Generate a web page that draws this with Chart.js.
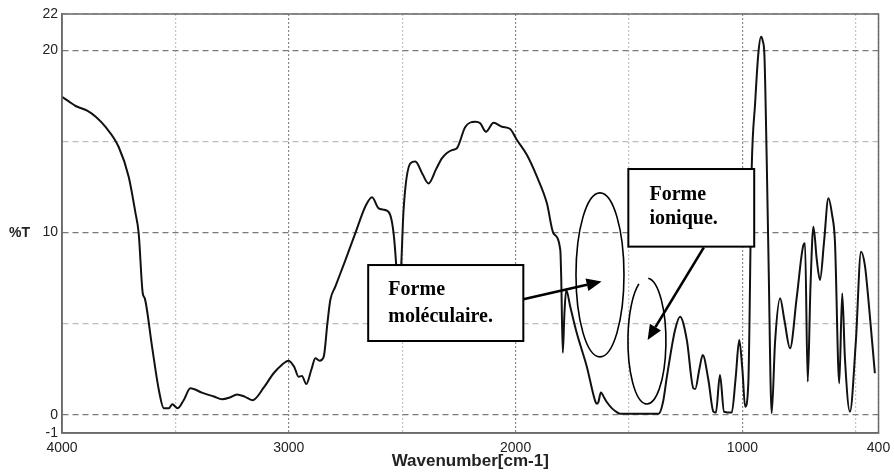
<!DOCTYPE html>
<html>
<head>
<meta charset="utf-8">
<title>Spectre IR</title>
<script src="https://cdn.jsdelivr.net/npm/chart.js@4.4.0/dist/chart.umd.min.js"></script>
<style>
  body { margin: 0; background: #fff; }
  canvas { display: block; }
</style>
</head>
<body>
<canvas id="myChart" width="894" height="472"></canvas>
<script>
const wavenumbers = [
  4000, 3970, 3940, 3889, 3850, 3808, 3750, 3706, 3676, 3662, 3644, 3635, 3603, 3573, 3551, 3529, 3514, 3490, 3463, 3434,
  3380, 3330, 3294, 3260, 3228, 3195, 3160, 3110, 3067, 3030, 3001, 2975, 2957, 2942, 2923, 2900, 2883, 2864, 2846, 2830,
  2817, 2795, 2750, 2707, 2660, 2633, 2604, 2575, 2553, 2538, 2527, 2515, 2504, 2494, 2464, 2442, 2410, 2384, 2350, 2325,
  2281, 2259, 2222, 2178, 2156, 2131, 2097, 2060, 2024, 1994, 1950, 1906, 1862, 1833, 1803, 1799, 1792, 1785, 1777, 1759,
  1730, 1686, 1649, 1642, 1635, 1624, 1610, 1598, 1575, 1554, 1539, 1370, 1350, 1333, 1297, 1275, 1245, 1216, 1208, 1190,
  1175, 1150, 1128, 1117, 1099, 1081, 1047, 1030, 1014, 1000, 988, 974, 959, 944, 930, 918, 910, 903, 893, 885,
  871, 856, 834, 815, 790, 760, 731, 724, 712, 700, 687, 672, 658, 640, 621, 605, 592, 573, 560, 548,
  526, 500, 477, 460, 445, 416
];
const transmittance = [
  17.45, 17.2, 16.95, 16.7, 16.35, 15.8, 14.7, 13.07, 11.07, 9.98, 6.67, 6.39, 3.74, 1.36, 0.36, 0.36, 0.58, 0.36, 0.81, 1.45,
  1.2, 1.0, 0.85, 0.95, 1.12, 1.0, 0.8, 1.5, 2.28, 2.75, 2.97, 2.6, 2.09, 2.13, 1.69, 2.5, 3.1, 2.97, 3.19, 5.0,
  6.3, 7.03, 8.5, 9.96, 11.5, 11.94, 11.33, 11.24, 10.97, 9.96, 8.3, 5.5, 8.3, 11.24, 13.8, 13.9, 13.2, 12.7, 13.5, 14.08,
  14.53, 14.63, 15.8, 16.09, 16.0, 15.54, 16.03, 15.81, 15.69, 15.08, 14.26, 13.07, 11.61, 9.96, 9.05, 7.58, 3.4, 5.5, 6.85, 5.93,
  4.47, 2.64, 0.75, 0.6, 0.7, 1.23, 0.95, 0.7, 0.35, 0.15, 0.05, 0.05, 0.7, 2.09, 4.65, 5.38, 4.1, 1.45, 1.42, 2.5,
  3.28, 1.91, 0.17, 0.12, 2.18, 0.17, 0.12, 2.0, 4.1, 2.46, 0.44, 1.73, 13.53, 17.1, 19.8, 20.75, 20.5, 19.75, 14.08, 8.59,
  0.08, 4.01, 6.39, 5.2, 3.65, 6.5, 9.32, 9.41, 1.82, 7.0, 10.32, 8.5, 7.4, 9.5, 11.88, 11.0, 9.5, 1.73, 6.67, 3.1,
  0.17, 4.0, 8.95, 8.2, 6.39, 2.28
];

const xTicks = [4000, 3500, 3000, 2500, 2000, 1500, 1000, 500, 400];
const xLabels = [4000, 3000, 2000, 1000, 400];
const yTicks = [-1, 0, 5, 10, 15, 20, 22];
const yLabels = [-1, 0, 10, 20, 22];

// annotations (en coordonnees du graphique)
const boxes = [
  { x1: 2650, x2: 1966, y1: 8.22, y2: 4.05, tx: 2561, lines: ['Forme', 'moléculaire.'], ty: [6.58, 5.11] },
  { x1: 1503, x2: 948, y1: 13.49, y2: 9.23, tx: 1410, lines: ['Forme', 'ionique.'], ty: [11.79, 10.47] }
];
const arrows = [
  { from: [1966, 6.34], to: [1621, 7.32] },
  { from: [1170, 9.19], to: [1418, 4.11] }
];

const annotPlugin = {
  id: 'annot',
  afterDraw(chart) {
    const ctx = chart.ctx;
    const sx = chart.scales.x, sy = chart.scales.y;
    const a = chart.chartArea;
    ctx.save();
    // cadre
    ctx.strokeStyle = '#6a6a6a';
    ctx.lineWidth = 1.5;
    ctx.strokeRect(a.left, a.top, a.right - a.left, a.bottom - a.top);

    // ellipses
    ctx.strokeStyle = '#000';
    ctx.lineWidth = 1.6;
    ctx.beginPath();
    ctx.ellipse(sx.getPixelForValue(1628), sy.getPixelForValue(7.68), 24, 82, 0, 0, Math.PI * 2);
    ctx.stroke();
    ctx.beginPath();
    ctx.ellipse(sx.getPixelForValue(1421), sy.getPixelForValue(4.05), 19, 63, 0, 274 * Math.PI / 180, 605 * Math.PI / 180);
    ctx.stroke();

    // boites
    boxes.forEach(b => {
      const x1 = sx.getPixelForValue(b.x1), x2 = sx.getPixelForValue(b.x2);
      const y1 = sy.getPixelForValue(b.y1), y2 = sy.getPixelForValue(b.y2);
      ctx.fillStyle = '#fff';
      ctx.fillRect(x1, y1, x2 - x1, y2 - y1);
      ctx.strokeStyle = '#000';
      ctx.lineWidth = 2;
      ctx.strokeRect(x1, y1, x2 - x1, y2 - y1);
      ctx.fillStyle = '#000';
      ctx.font = 'bold 20px "Liberation Serif", "Times New Roman", serif';
      ctx.textBaseline = 'alphabetic';
      ctx.textAlign = 'left';
      b.lines.forEach((t, i) => ctx.fillText(t, sx.getPixelForValue(b.tx), sy.getPixelForValue(b.ty[i])));
    });

    // fleches
    arrows.forEach(ar => {
      const x0 = sx.getPixelForValue(ar.from[0]), y0 = sy.getPixelForValue(ar.from[1]);
      const x1 = sx.getPixelForValue(ar.to[0]), y1 = sy.getPixelForValue(ar.to[1]);
      const ang = Math.atan2(y1 - y0, x1 - x0);
      const hl = 15, hw = 6.5;
      const bx = x1 - hl * Math.cos(ang), by = y1 - hl * Math.sin(ang);
      ctx.strokeStyle = '#000';
      ctx.lineWidth = 2.6;
      ctx.beginPath();
      ctx.moveTo(x0, y0);
      ctx.lineTo(bx, by);
      ctx.stroke();
      ctx.fillStyle = '#000';
      ctx.beginPath();
      ctx.moveTo(x1, y1);
      ctx.lineTo(bx + hw * Math.sin(ang), by - hw * Math.cos(ang));
      ctx.lineTo(bx - hw * Math.sin(ang), by + hw * Math.cos(ang));
      ctx.closePath();
      ctx.fill();
    });

    // %T
    ctx.fillStyle = '#222';
    ctx.font = 'bold 14px "Liberation Sans", Arial, sans-serif';
    ctx.textAlign = 'left';
    ctx.textBaseline = 'middle';
    ctx.fillText('%T', 9, sy.getPixelForValue(10) + 1);
    ctx.restore();
  }
};

const data = {
  datasets: [{
    data: wavenumbers.map((w, i) => ({ x: w, y: transmittance[i] })),
    borderColor: '#111',
    borderWidth: 2,
    pointRadius: 0,
    fill: false,
    cubicInterpolationMode: 'monotone'
  }]
};

const options = {
  responsive: false,
  animation: false,
  layout: { padding: { top: 14, right: 15.5, left: 0, bottom: 0 } },
  plugins: {
    legend: { display: false },
    tooltip: { enabled: false }
  },
  scales: {
    x: {
      type: 'linear',
      reverse: true,
      min: 400,
      max: 4000,
      afterBuildTicks: (scale) => { scale.ticks = xTicks.map(v => ({ value: v })); },
      afterFit: (scale) => {
        scale.height = 39;
        scale.paddingLeft = 0;
        scale.paddingRight = 0;
      },
      ticks: {
        autoSkip: false,
        maxRotation: 0,
        padding: 7,
        color: '#222',
        font: { family: '"Liberation Sans", Arial, sans-serif', size: 14 },
        callback: (v) => xLabels.includes(v) ? String(v) : ''
      },
      grid: {
        drawTicks: false,
        color: (c) => (c.tick && c.tick.value % 1000 === 0) ? '#8a8a8a' : '#c4c4c4',
        lineWidth: 1.2
      },
      border: { display: true, color: '#6a6a6a', width: 1.5, dash: [2, 2] },
      title: {
        display: true,
        text: 'Wavenumber[cm-1]',
        color: '#222',
        font: { family: '"Liberation Sans", Arial, sans-serif', size: 17, weight: 'bold' },
        padding: { top: 0, bottom: 0 }
      }
    },
    y: {
      min: -1,
      max: 22,
      afterBuildTicks: (scale) => { scale.ticks = yTicks.map(v => ({ value: v })); },
      afterFit: (scale) => { scale.width = 62; },
      ticks: {
        autoSkip: false,
        padding: 4,
        color: '#222',
        font: { family: '"Liberation Sans", Arial, sans-serif', size: 14 },
        callback: (v) => yLabels.includes(v) ? String(v) : ''
      },
      grid: {
        drawTicks: false,
        color: (c) => (c.tick && c.tick.value % 10 === 0) ? '#7a7a7a' : '#bdbdbd',
        lineWidth: 1.2
      },
      border: { display: true, color: '#6a6a6a', width: 1.5, dash: [6, 4] }
    }
  }
};

const config = {
  type: 'line',
  data: data,
  options: options,
  plugins: [annotPlugin]
};

const myChart = new Chart(document.getElementById('myChart'), config);
</script>
</body>
</html>
